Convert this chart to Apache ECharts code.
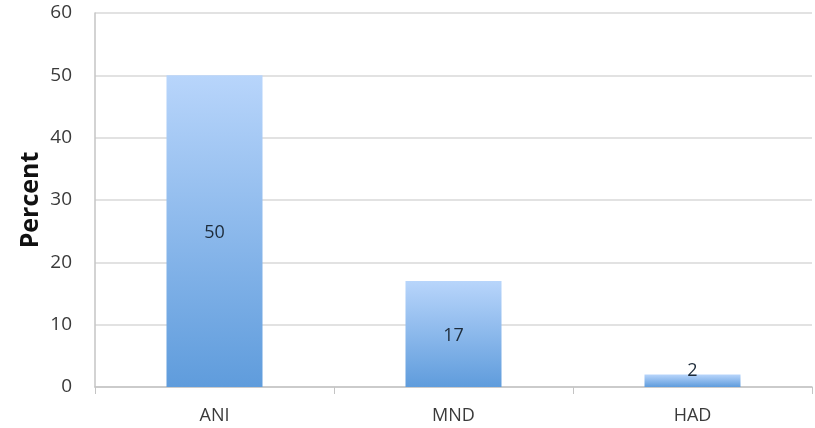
<!DOCTYPE html>
<html>
<head>
<meta charset="utf-8">
<script src="https://cdn.jsdelivr.net/npm/echarts@6/dist/echarts.min.js"></script>
<style>
  html, body { margin: 0; padding: 0; background: #fff; }
  #chart { width: 815px; height: 428px; }
</style>
</head>
<body>
<div id="chart"></div>
<script>
// Share of each group, in percent
const categories = ['ANI', 'MND', 'HAD'];
const percentValues = [50, 17, 2];
const yTicks = { min: 0, max: 60, interval: 10 };

const barGradient = new echarts.graphic.LinearGradient(0, 0, 0, 1, [
  { offset: 0, color: '#b8d5fb' },
  { offset: 1, color: '#5f9cdc' }
]);

const chart = echarts.init(document.getElementById('chart'));
chart.setOption({
  animation: false,
  grid: { left: 95, right: 3, top: 13, bottom: 41 },
  xAxis: {
    type: 'category',
    data: categories,
    axisLine: { lineStyle: { color: '#c4c4c4', width: 1.5 } },
    axisTick: { show: true, length: 7, alignWithLabel: false, lineStyle: { color: '#c4c4c4' } },
    axisLabel: { color: '#3a3a3a', fontSize: 18, fontFamily: 'Open Sans', margin: 20 }
  },
  yAxis: {
    type: 'value',
    min: yTicks.min,
    max: yTicks.max,
    interval: yTicks.interval,
    name: 'Percent',
    nameLocation: 'middle',
    nameGap: 52,
    nameMoveOverlap: false,
    nameTextStyle: { color: '#111', fontSize: 25, fontWeight: 'bold', fontFamily: 'Open Sans', padding: [0, 0, 0, 0] },
    axisLine: { show: true, lineStyle: { color: '#c4c4c4', width: 1.5 } },
    axisTick: { show: false },
    axisLabel: { color: '#3a3a3a', fontSize: 19, fontFamily: 'Open Sans', margin: 23 },
    splitLine: { lineStyle: { color: '#d9d9d9', width: 1.5 } }
  },
  series: [{
    type: 'bar',
    barWidth: 96,
    data: percentValues.map(v => ({
      value: v,
      label: { position: v < 5 ? 'top' : 'inside', distance: -3 }
    })),
    itemStyle: { color: barGradient },
    label: {
      show: true,
      color: '#1d2b3a',
      fontSize: 18,
      fontFamily: 'Open Sans',
      offset: [0, 2]
    }
  }]
});
</script>
</body>
</html>
